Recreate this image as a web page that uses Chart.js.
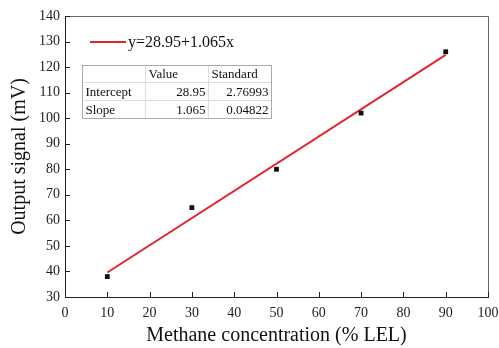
<!DOCTYPE html>
<html>
<head>
<meta charset="utf-8">
<script src="https://cdn.jsdelivr.net/npm/chart.js@4.4.0/dist/chart.umd.min.js"></script>
<style>
  html, body { margin: 0; padding: 0; background: #fff; }
  #wrap { width: 499px; height: 348px; position: relative; }
</style>
</head>
<body>
<div id="wrap"><canvas id="chart"></canvas></div>
<script>
// ── Data ──────────────────────────────────────────────────────────────
const concentration = [10, 30, 50, 70, 90];
const signal        = [38, 65, 80, 102, 126];
const fitX          = [10, 90];
const fitY          = [39.6, 124.8];
const xTicks        = [0, 10, 20, 30, 40, 50, 60, 70, 80, 90, 100];
const yTicks        = [30, 40, 50, 60, 70, 80, 90, 100, 110, 120, 130, 140];
const fitLabel      = 'y=28.95+1.065x';
const tableHeader   = ['', 'Value', 'Standard'];
const tableRows     = [
    ['Intercept', '28.95', '2.76993'],
    ['Slope',     '1.065', '0.04822'],
];

const SERIF = '"Liberation Serif", "DejaVu Serif", serif';
const RED   = '#e3242b';

// ── Frame, inward ticks, legend and fit table ─────────────────────────
const decorPlugin = {
    id: 'decor',
    afterDraw(chart) {
        const { ctx, chartArea: a, scales } = chart;
        ctx.save();

        // top / right frame
        ctx.strokeStyle = '#666';
        ctx.lineWidth = 1;
        ctx.beginPath();
        ctx.moveTo(a.left, a.top + 0.5);
        ctx.lineTo(a.right + 0.5, a.top + 0.5);
        ctx.lineTo(a.right + 0.5, a.bottom);
        ctx.stroke();

        // inward ticks
        ctx.strokeStyle = '#222';
        ctx.beginPath();
        scales.x.ticks.forEach(t => {
            const px = Math.round(scales.x.getPixelForValue(t.value)) + 0.5;
            ctx.moveTo(px, a.bottom);
            ctx.lineTo(px, a.bottom - 5);
        });
        scales.y.ticks.forEach(t => {
            const py = Math.round(scales.y.getPixelForValue(t.value)) + 0.5;
            ctx.moveTo(a.left, py);
            ctx.lineTo(a.left + 5, py);
        });
        ctx.stroke();

        // legend
        ctx.strokeStyle = RED;
        ctx.lineWidth = 2;
        ctx.beginPath();
        ctx.moveTo(90, 42);
        ctx.lineTo(126, 42);
        ctx.stroke();
        ctx.fillStyle = '#111';
        ctx.font = '16px ' + SERIF;
        ctx.textBaseline = 'middle';
        ctx.textAlign = 'left';
        ctx.fillText(fitLabel, 128, 43);

        // table
        const colX = [82.5, 145.5, 208.5, 271.5];
        const rowY = [65.5, 82.5, 100.5, 118.5];
        ctx.fillStyle = '#fff';
        ctx.fillRect(colX[0], rowY[0], colX[3] - colX[0], rowY[3] - rowY[0]);
        ctx.lineWidth = 1;
        ctx.strokeStyle = '#ddd';
        ctx.beginPath();
        [1, 2].forEach(i => { ctx.moveTo(colX[i], rowY[0]); ctx.lineTo(colX[i], rowY[3]); });
        [1, 2].forEach(i => { ctx.moveTo(colX[0], rowY[i]); ctx.lineTo(colX[3], rowY[i]); });
        ctx.stroke();
        ctx.strokeStyle = '#aaa';
        ctx.strokeRect(colX[0], rowY[0], colX[3] - colX[0], rowY[3] - rowY[0]);

        ctx.fillStyle = '#111';
        ctx.font = '13px ' + SERIF;
        const rows = [tableHeader, ...tableRows];
        rows.forEach((row, r) => {
            const cy = (rowY[r] + rowY[r + 1]) / 2 + 1;
            row.forEach((txt, c) => {
                if (r === 0 || c === 0) {
                    ctx.textAlign = 'left';
                    ctx.fillText(txt, colX[c] + 3, cy);
                } else {
                    ctx.textAlign = 'right';
                    ctx.fillText(txt, colX[c + 1] - 3, cy);
                }
            });
        });
        ctx.restore();
    },
};

// ── Chart ─────────────────────────────────────────────────────────────
new Chart(document.getElementById('chart'), {
    type: 'scatter',
    data: {
        datasets: [
            {
                label: 'Fit',
                type: 'line',
                data: fitX.map((x, i) => ({ x, y: fitY[i] })),
                borderColor: RED,
                borderWidth: 2,
                pointRadius: 0,
                fill: false,
                order: 2,
            },
            {
                label: 'Signal',
                data: concentration.map((x, i) => ({ x, y: signal[i] })),
                pointStyle: 'rect',
                pointRadius: 3.4,
                backgroundColor: '#111',
                borderColor: '#111',
                borderWidth: 0,
                order: 1,
            },
        ],
    },
    options: {
        responsive: true,
        maintainAspectRatio: false,
        animation: false,
        layout: { padding: { left: 0, top: 16, right: 11, bottom: 0 } },
        plugins: {
            legend:  { display: false },
            tooltip: { enabled: false },
        },
        scales: {
            x: {
                type: 'linear',
                min: 0,
                max: 100,
                afterBuildTicks: s => { s.ticks = xTicks.map(v => ({ value: v })); },
                afterFit: s => { s.height = 51; s.paddingLeft = 0; s.paddingRight = 0; },
                grid:   { display: false, drawTicks: false },
                border: { display: true, color: '#222', width: 1 },
                ticks:  { color: '#222', padding: 8, font: { family: SERIF, size: 14 } },
                title:  {
                    display: true,
                    text: 'Methane concentration (% LEL)',
                    color: '#111',
                    padding: { top: 0, bottom: 0 },
                    font: { family: SERIF, size: 20 },
                },
            },
            y: {
                type: 'linear',
                min: 30,
                max: 140,
                afterBuildTicks: s => { s.ticks = yTicks.map(v => ({ value: v })); },
                afterFit: s => { s.width = 65; s.paddingTop = 0; s.paddingBottom = 0; },
                grid:   { display: false, drawTicks: false },
                border: { display: true, color: '#222', width: 1 },
                ticks:  { color: '#222', padding: 5, font: { family: SERIF, size: 14 } },
                title:  {
                    display: true,
                    text: 'Output signal (mV)',
                    color: '#111',
                    padding: { top: 8, bottom: 0 },
                    font: { family: SERIF, size: 20 },
                },
            },
        },
    },
    plugins: [decorPlugin],
});
</script>
</body>
</html>
